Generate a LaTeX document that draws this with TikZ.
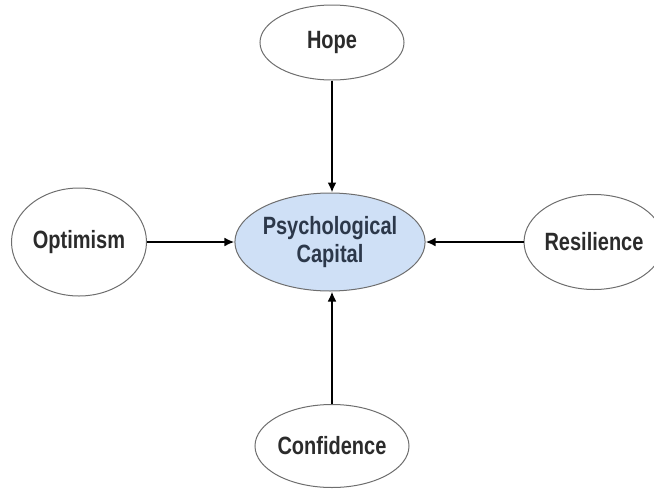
\documentclass[tikz,border=0pt]{standalone}
\usepackage{fontspec}
\setmainfont[FakeStretch=0.8]{Liberation Sans}
\usetikzlibrary{shapes.geometric,arrows.meta}
\definecolor{txtgray}{HTML}{2B2B2B}
\definecolor{ctrtxt}{HTML}{2C384A}
\definecolor{ctrfill}{HTML}{CFE0F6}
\definecolor{edgegray}{HTML}{6E6E6E}
\tikzset{
  outer/.style={ellipse, draw=edgegray, line width=1pt, inner sep=0pt, text=txtgray,
    font=\fontsize{25}{28}\selectfont\bfseries, align=center},
  center/.style={outer, fill=ctrfill, text=ctrtxt},
  conn/.style={-{Latex[length=10pt,width=9pt]}, line width=2.6pt, black}
}
\begin{document}
\begin{tikzpicture}[x=1pt,y=-1pt]
\useasboundingbox (0,0) rectangle (654,488);
\node[center, minimum width=185pt, minimum height=98pt] (pc) at (330,242) {Psychological\\Capital};
\node[outer, minimum width=144pt, minimum height=75pt] (hope) at (332,42.5) {Hope};
\node[outer, minimum width=135pt, minimum height=108pt] (opt) at (79,242) {Optimism};
\node[outer, minimum width=115pt, minimum height=95pt] (res) at (594,242) {Resilience};
\node[outer, minimum width=144pt, minimum height=83pt] (conf) at (332,446) {Confidence};
\draw[conn] (hope.south) -- (hope.south |- pc.north);
\draw[conn] (opt.east) -- (opt.east -| pc.west);
\draw[conn] (res.west) -- (res.west -| pc.east);
\draw[conn] (conf.north) -- (conf.north |- pc.south);
\end{tikzpicture}
\end{document}
